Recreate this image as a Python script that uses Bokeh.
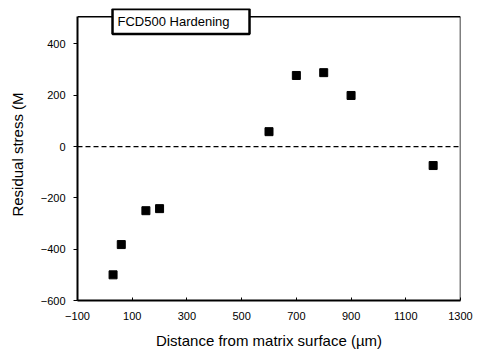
from bokeh.plotting import figure
from bokeh.models import Range1d, FixedTicker, Span, Label
from bokeh.embed import file_html
from bokeh.resources import INLINE

distance_um = [30, 60, 150, 200, 600, 700, 800, 900, 1200]
residual_stress = [-500, -382, -250, -242, 58, 277, 288, 199, -74]
x_ticks = [-100, 100, 300, 500, 700, 900, 1100, 1300]
y_ticks = [-600, -400, -200, 0, 200, 400]
title_text = "FCD500 Hardening"

FONT = "Liberation Sans"
X_MIN, X_MAX = -100, 1300
Y_MIN, Y_TOP = -600, 506

p = figure(width=485, height=353, output_backend="svg", toolbar_location=None,
           x_range=Range1d(X_MIN, X_MAX), y_range=Range1d(Y_MIN, 538),
           min_border_left=77, min_border_right=25, min_border_top=8, min_border_bottom=53)
p.background_fill_color = "white"
p.border_fill_color = "white"
p.outline_line_color = None
p.grid.visible = False

p.xaxis.ticker = FixedTicker(ticks=x_ticks)
p.yaxis.ticker = FixedTicker(ticks=y_ticks)
p.yaxis.bounds = (Y_MIN, Y_TOP)
for ax in (p.xaxis[0], p.yaxis[0]):
    ax.axis_line_width = 2
    ax.axis_line_color = "black"
    ax.major_tick_line_color = "black"
    ax.minor_tick_line_color = None
    ax.major_label_text_font = FONT
    ax.major_label_text_font_size = "11px"
    ax.major_label_text_color = "black"
    ax.axis_label_text_font = FONT
    ax.axis_label_text_font_style = "normal"
    ax.axis_label_text_font_size = "15px"
    ax.axis_label_text_color = "black"

p.xaxis.major_tick_in = 3
p.xaxis.major_tick_out = 0
p.yaxis.major_tick_in = 0
p.yaxis.major_tick_out = 4
p.xaxis.major_label_standoff = 11
p.yaxis.major_label_standoff = 8
p.xaxis.axis_label = "Distance from matrix surface (\u00b5m)"
p.yaxis.axis_label = "Residual stress (M"
p.xaxis.axis_label_standoff = 9
p.yaxis.axis_label_standoff = 12

# frame top and right border lines
p.segment(x0=[X_MIN, X_MAX], y0=[Y_TOP, Y_MIN], x1=[X_MAX, X_MAX], y1=[Y_TOP, Y_TOP],
          line_color="black", line_width=1.5)

p.add_layout(Span(location=0, dimension="width", line_color="black",
                  line_dash="5 3", line_width=1.2))

p.scatter(distance_um, residual_stress, marker="square", size=8,
          fill_color="black", line_color="black")

p.add_layout(Label(x=28, y=487, text=title_text, text_font=FONT, text_color="black",
                   text_font_size="13px", text_baseline="middle", text_align="left",
                   background_fill_color="white", border_line_color="black",
                   border_line_width=2.5,
                   padding=dict(left=5, right=20, top=5, bottom=5)))

open("out.html", "w").write(file_html(p, INLINE))
